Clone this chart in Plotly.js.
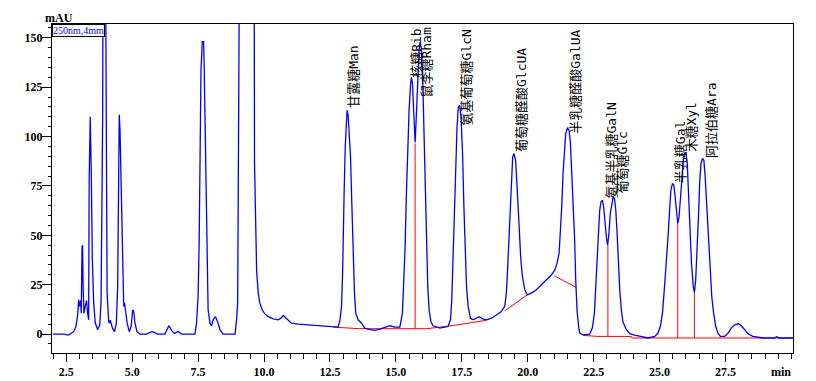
<!DOCTYPE html>
<html><head><meta charset="utf-8">
<script src="https://cdn.plot.ly/plotly-3.0.1.min.js"></script>
<style>html,body{margin:0;padding:0;background:#fff}#chart{width:816px;height:381px}</style>
</head><body><div id="chart"></div>
<script>
// Chromatogram trace (time in min, signal in mAU)
const time = [2.00,2.40,2.59,2.70,2.78,2.87,2.94,2.97,3.01,3.05,3.07,3.10,3.12,3.14,3.17,3.22,3.27,3.31,3.35,3.37,3.41,3.45,3.49,3.54,3.60,3.69,3.77,3.82,3.85,3.88,3.90,3.94,3.98,4.02,4.05,4.11,4.14,4.17,4.21,4.26,4.33,4.40,4.45,4.49,4.51,4.54,4.56,4.60,4.64,4.68,4.71,4.75,4.81,4.89,4.96,5.02,5.06,5.10,5.18,5.30,5.55,5.74,5.85,5.95,6.24,6.33,6.39,6.45,6.50,6.60,6.67,6.75,6.87,7.38,7.44,7.50,7.54,7.57,7.61,7.66,7.71,7.73,7.77,7.81,7.85,7.88,7.95,8.01,8.07,8.16,8.24,8.33,8.45,8.90,8.96,9.00,9.02,9.06,9.15,9.30,9.45,9.58,9.63,9.64,9.68,9.72,9.78,9.84,9.93,10.03,10.16,10.35,10.54,10.64,10.73,10.85,11.04,11.29,11.61,12.12,12.62,12.81,12.88,12.94,12.98,13.00,13.04,13.08,13.11,13.15,13.19,13.23,13.28,13.33,13.38,13.43,13.48,13.57,13.70,13.82,13.95,14.20,14.39,14.58,14.77,14.96,15.15,15.25,15.30,15.35,15.40,15.45,15.50,15.56,15.59,15.63,15.68,15.73,15.78,15.83,15.88,15.92,15.96,16.01,16.06,16.11,16.16,16.21,16.26,16.33,16.41,16.54,16.67,16.98,17.07,17.12,17.17,17.22,17.27,17.32,17.37,17.42,17.47,17.53,17.58,17.63,17.68,17.74,17.83,17.93,18.06,18.16,18.29,18.44,18.63,18.82,19.00,19.13,19.19,19.23,19.28,19.33,19.38,19.43,19.48,19.54,19.59,19.64,19.69,19.74,19.80,19.89,19.98,20.14,20.33,20.52,20.71,20.90,21.03,21.11,21.19,21.24,21.29,21.34,21.39,21.44,21.51,21.57,21.62,21.67,21.72,21.78,21.82,21.87,21.93,21.97,22.10,22.35,22.45,22.53,22.58,22.63,22.68,22.73,22.78,22.83,22.88,22.93,22.98,23.03,23.08,23.13,23.19,23.24,23.29,23.34,23.39,23.44,23.49,23.55,23.61,23.74,23.87,24.06,24.25,24.56,24.82,24.94,25.03,25.11,25.18,25.26,25.33,25.38,25.43,25.49,25.54,25.59,25.64,25.69,25.74,25.80,25.85,25.90,25.95,26.00,26.05,26.10,26.15,26.21,26.28,26.32,26.37,26.43,26.48,26.52,26.57,26.63,26.68,26.73,26.78,26.84,26.90,26.98,27.05,27.13,27.22,27.31,27.47,27.60,27.72,27.85,28.00,28.10,28.23,28.35,28.54,28.92,29.35,29.45,29.55,30.06];
const signal = [0,0,-0.5,0.3,1.2,3.8,10.6,17.3,14,17,10.6,44,45,24,10.6,14,17,10.6,7.2,78,110,81,37.5,15.8,5.7,2.2,4.7,15.8,49,108,200,300,220,60,20.8,6.2,5.5,7,5.5,2.7,1.2,5.5,24,108,111,103,88,57.7,24,14,15.8,10.6,5.5,1.2,3.8,12.2,11.4,6.2,1.2,0,0,1.2,0.8,0,0,2.5,4.2,3,1.7,0.3,0.8,1.3,0,0,5.5,19,46,96.5,133.5,148,148,136,96.5,62.8,37.5,12.3,5.5,4.2,7.2,8.8,6.2,2.2,0,0,7.2,15.8,62.8,170,300,400,330,220,160,86.5,49,32,20.8,15.8,12.3,10.2,8.8,7.7,7.2,8.0,9.4,7.7,5.5,5.0,4.7,3.9,3.5,3.5,7.2,14,30.8,49.3,72.9,94.7,108,113.3,110.8,103,89.7,66,41,20.7,10.6,7.2,5.5,3.0,2.5,1.9,2.5,3.5,4.2,3.5,3.5,10.6,24,44,71,94.7,113,126.8,130,126.8,111.6,97,111.6,131.8,143.6,147.8,145,133.5,108,78,47.6,24,12.3,6.2,4.2,3.5,3.0,3.8,7.2,17.3,37.5,61,86.4,104.8,115,115.8,110,91.4,64.4,41,24,14,8,7.2,8,8.8,7.7,7.2,8,9.7,11.4,14,20.7,30.8,47.6,64.4,79.6,89.7,91.4,88,76.3,61,47.6,37.5,29.1,22.4,19.8,20.7,22.4,24.9,27.4,30,32.5,35.8,40.9,51,64.4,81.3,94.7,101.5,104.5,103,96.5,83,64.4,47.6,27.4,12.3,3.8,0.5,-0.4,0.0,3,10.6,24,37.5,52.7,62.8,67,67.8,64.4,56,49.3,45,51,61,66,69.5,68.5,62.8,51,35.8,22.4,12.3,6.2,2.2,0.2,-0.5,-1.2,-2,-1.2,0.5,3.8,10.6,22.4,35.8,51,62.8,72.9,76.3,75.5,69.5,61,56,59.4,71.2,81.3,88,91.4,91.4,86.4,71.2,54.3,35.8,24,21,27.4,42,61,76.3,86.4,88.9,88,79.6,67.8,49.3,34.1,19,10.6,3.8,0.2,-1.2,-1.2,0.5,3,4.7,5.2,4.2,2.2,0.2,-1.2,-2,-2,-1.4,-2,-2];

// Integration baseline segments (null = break)
const baseTime  = [12.62,13.63,16.16,17.17,17.93,18.44,null,19.13,19.98,null,21.01,21.85,null,22.10,22.65,22.67,23.93,23.95,30.06];
const baseValue = [3.5,2.7,2.7,4.3,5.9,7.0,null,11.8,19.8,null,29.5,23.5,null,-0.7,-0.9,-1.2,-1.2,-2.0,-2.0];

// Peak drop lines
const dropTime   = [15.73, 23.04, 25.69, 26.32];
const dropTop    = [96.5, 45, 56, 21];
const dropBottom = [2.7, -1.2, -2, -2];

// Peak labels
const peakNames  = ["甘露糖Man","核糖Rib","鼠李糖Rham","氨基葡萄糖GlcN","葡萄糖醛酸GlcUA","半乳糖醛酸GalUA","氨基半乳糖GalN","葡萄糖Glc","半乳糖Gal","木糖Xyl","阿拉伯糖Ara"];
const labelTime  = [13.41, 15.80, 16.16, 17.68, 19.76, 21.78, 23.17, 23.61, 25.79, 26.21, 26.97];
const labelValue = [130.2, 142.4, 137.7, 129.7, 118.7, 127.6, 93.1, 86.8, 92.3, 104.8, 108.2];

const xTicks = [2.5,5,7.5,10,12.5,15,17.5,20,22.5,25,27.5];
const xTickText = ["2.5","5.0","7.5","10.0","12.5","15.0","17.5","20.0","22.5","25.0","27.5"];
const yTicks = [0,25,50,75,100,125,150];
const yTickText = ["0","25","50","75","100","125","150"];

const dropX = [], dropY = [];
dropTime.forEach((t,i)=>{ dropX.push(t,t,null); dropY.push(dropBottom[i],dropTop[i],null); });

const traces = [
  {x: baseTime, y: baseValue, mode:'lines', line:{color:'#ff0000', width:1}, connectgaps:false, hoverinfo:'skip'},
  {x: dropX, y: dropY, mode:'lines', line:{color:'#ff0000', width:1}, connectgaps:false, hoverinfo:'skip'},
  {x: time, y: signal, mode:'lines', line:{color:'#0000ff', width:1.3}}
];

const tickFont = {family:'Liberation Serif, Times New Roman, serif', size:12, color:'#000', weight:'bold'};
const labelFont = {family:'DejaVu Sans Mono, Noto Sans CJK SC, monospace', size:13, color:'#000'};

const annotations = peakNames.map((n,i)=>({
  text:n, x:labelTime[i], y:labelValue[i], xref:'x', yref:'y', textangle:-90,
  showarrow:false, xanchor:'center', yanchor:'middle', font:labelFont
}));
annotations.push({text:'mAU', xref:'paper', yref:'paper', x:0.0092, y:1.018, xanchor:'center', yanchor:'middle', showarrow:false, font:tickFont});
annotations.push({text:'min', xref:'paper', yref:'paper', x:1, y:-0.059, xanchor:'right', yanchor:'middle', showarrow:false, font:tickFont});
annotations.push({text:'250nm,4mm', xref:'paper', yref:'paper', x:0, y:1, xanchor:'left', yanchor:'top', showarrow:false,
  font:{family:'Liberation Serif, serif', size:10, color:'#0000ff'}, bordercolor:'#000', borderwidth:1, borderpad:0, bgcolor:'#fff'});

const layout = {
  width:816, height:381,
  margin:{l:52, r:23, t:24, b:28},
  paper_bgcolor:'#fff', plot_bgcolor:'#fff',
  showlegend:false,
  xaxis:{range:[1.96,30.06], tickmode:'array', tickvals:xTicks, ticktext:xTickText,
    ticks:'outside', ticklen:8, tickcolor:'#000', tickwidth:1,
    showline:true, linecolor:'#000', linewidth:1, mirror:true, showgrid:false, zeroline:false,
    tickfont:tickFont,
    minor:{tickmode:'linear', tick0:0, dtick:0.5, ticks:'outside', ticklen:5, tickcolor:'#000', showgrid:false}},
  yaxis:{range:[-9.6,157], tickmode:'array', tickvals:yTicks, ticktext:yTickText,
    ticks:'outside', ticklen:9, tickcolor:'#000', tickwidth:1,
    showline:true, linecolor:'#000', linewidth:1, mirror:true, showgrid:false, zeroline:false,
    tickfont:tickFont, ticklabelstandoff:-3,
    minor:{tickmode:'linear', tick0:0, dtick:5, ticks:'outside', ticklen:3, tickcolor:'#000', showgrid:false}},
  annotations: annotations
};

Plotly.newPlot('chart', traces, layout, {displayModeBar:false, staticPlot:true});
</script></body></html>
